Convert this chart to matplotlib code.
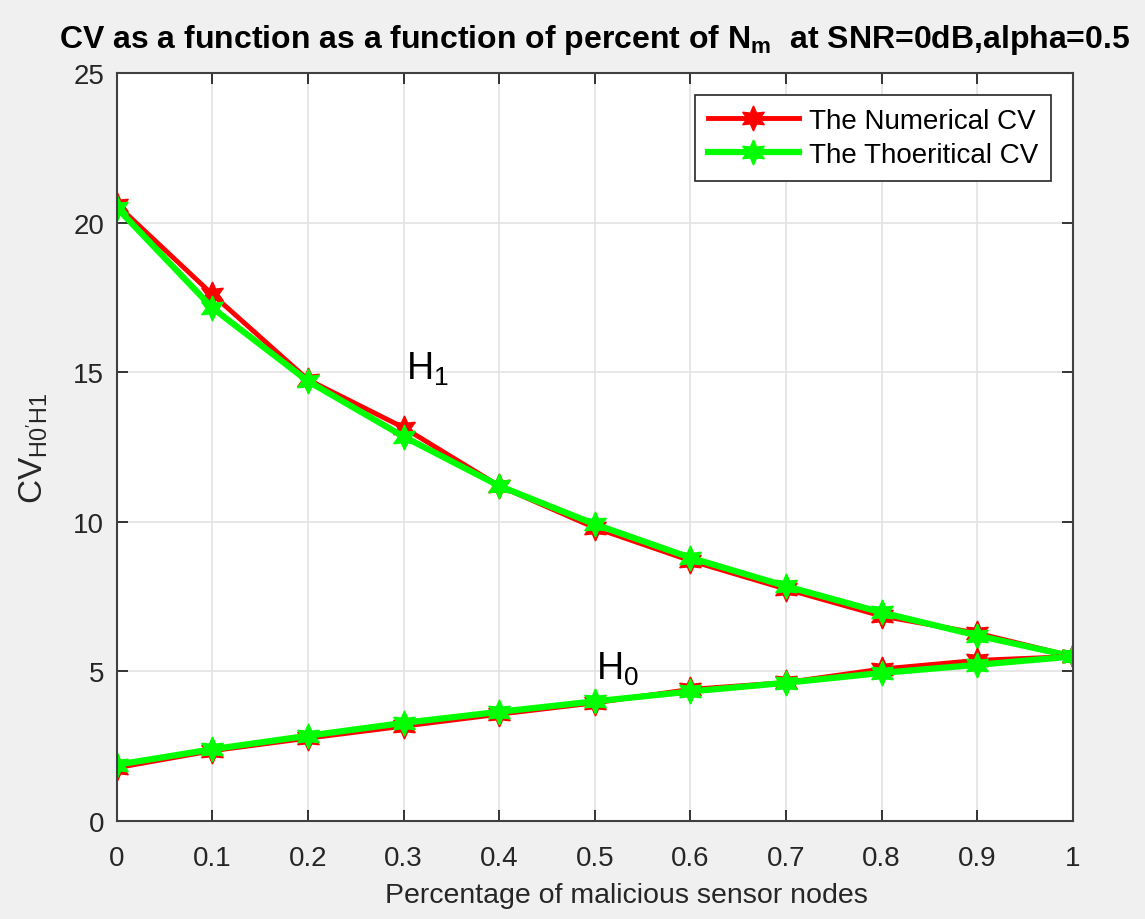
import matplotlib.pyplot as plt
import numpy as np

plt.rcParams['font.family'] = ['Liberation Sans', 'DejaVu Sans']

x = [0, 0.1, 0.2, 0.3, 0.4, 0.5, 0.6, 0.7, 0.8, 0.9, 1.0]
num_h1 = [20.6, 17.6, 14.75, 13.15, 11.2, 9.8, 8.7, 7.75, 6.85, 6.28, 5.5]
theo_h1 = [20.5, 17.15, 14.7, 12.85, 11.2, 9.92, 8.8, 7.85, 6.97, 6.2, 5.5]
num_h0 = [1.78, 2.35, 2.77, 3.17, 3.57, 3.95, 4.4, 4.63, 5.08, 5.37, 5.5]
theo_h0 = [1.88, 2.4, 2.85, 3.28, 3.65, 4.0, 4.33, 4.62, 4.95, 5.22, 5.5]

star6 = (6, 1, 0)
dark = '#262626'

fig = plt.figure(figsize=(11.45, 9.2), dpi=100, facecolor='#f0f0f0')
ax = fig.add_axes([0.102, 0.1065, 0.835, 0.813])

ax.plot(x, num_h1, color='red', lw=3.5, marker=star6, markersize=18, label='The Numerical CV')
ax.plot(x, theo_h1, color='#00ff00', lw=4.5, marker=star6, markersize=18, label='The Thoeritical CV')
ax.plot(x, num_h0, color='red', lw=3.5, marker=star6, markersize=18)
ax.plot(x, theo_h0, color='#00ff00', lw=4.5, marker=star6, markersize=18)

ax.text(0.302, 14.8, '$\\mathregular{H_1}$', fontsize=27, va='baseline')
ax.text(0.501, 4.75, '$\\mathregular{H_0}$', fontsize=27, va='baseline')

ax.set_xlim(0, 1)
ax.set_ylim(0, 25)
ax.set_xticks(np.arange(0, 1.01, 0.1))
ax.set_xticklabels(['0', '0.1', '0.2', '0.3', '0.4', '0.5', '0.6', '0.7', '0.8', '0.9', '1'])
ax.set_yticks([0, 5, 10, 15, 20, 25])
ax.grid(True, color='#e3e3e3', lw=1.2)
ax.set_axisbelow(True)
ax.tick_params(direction='in', top=True, right=True, labelsize=20, colors=dark,
               length=8, width=1.3)
ax.tick_params(axis='x', pad=17)
ax.tick_params(axis='y', pad=9)
for s in ax.spines.values():
    s.set_color('#404040')
    s.set_linewidth(1.5)

ax.set_xlabel('Percentage of malicious sensor nodes', fontsize=20.5, color=dark, labelpad=12)
ax.xaxis.set_label_coords(0.533, -0.082)
ax.set_ylabel("$\\mathregular{CV_{H0'H1}}$", fontsize=24, color=dark, labelpad=17)
ax.set_title('CV as a function as a function of percent of $\\mathregular{N_m}$  at SNR=0dB,alpha=0.5',
             fontsize=23, fontweight='bold', pad=19)

leg = ax.legend(loc='upper right', fontsize=20, fancybox=False, edgecolor=dark,
                handlelength=3.3, borderaxespad=0.8, labelspacing=0.3,
                borderpad=0.45, handletextpad=0.35)
leg.get_frame().set_linewidth(1.2)
leg.get_frame().set_alpha(1)

fig.savefig('out.png', dpi=100, facecolor=fig.get_facecolor())
